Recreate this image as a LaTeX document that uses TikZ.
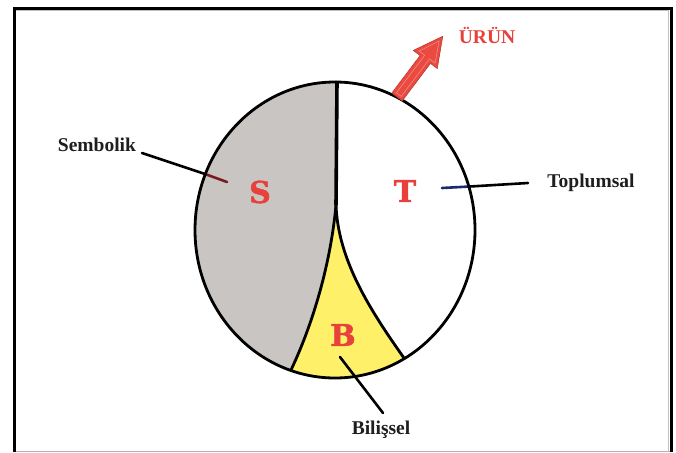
\documentclass[tikz,border=0pt]{standalone}
\usepackage{fontspec}
\setmainfont{Liberation Serif}
\newfontfamily\slabfont[BoldFeatures={FakeBold=1.6}]{DejaVu Serif}
\definecolor{lblred}{HTML}{E8403A}
\definecolor{arrred}{HTML}{EA4A40}
\definecolor{sgray}{HTML}{C9C5C3}
\definecolor{byellow}{HTML}{FFF06A}
\definecolor{txtdark}{HTML}{1E1E1E}
\definecolor{innerred}{HTML}{7A1A1A}
\definecolor{innerblue}{HTML}{1A2A6A}
\tikzset{
  lbl/.style={font=\fontsize{19.5}{21}\selectfont\bfseries, text=txtdark, inner sep=0pt},
  letter/.style={font=\slabfont\fontsize{30}{32}\selectfont\bfseries, text=lblred, inner sep=0pt},
  leader/.style={line width=2.6pt, line cap=round},
  outline/.style={line width=2.8pt, black},
}
\begin{document}
\begin{tikzpicture}[x=1pt,y=-1pt]
\useasboundingbox (0,0) rectangle (676,452);
\fill[white] (0,0) rectangle (676,452);
% frame
\draw[gray!60, line width=1pt] (16,451) -- (672,451);
\draw[gray!50, line width=1pt] (16,11) -- (668,11) -- (668,451);
\draw[black, line width=3.2pt] (14.5,452) -- (14.5,8.5) -- (671.5,8.5) -- (671.5,452);

% key points
\coordinate (top) at (337,81);
\coordinate (J) at (336,205);
\coordinate (BL) at (291,370);
\coordinate (BR) at (404,358);

% regions
\begin{scope}
  \clip (335,230) ellipse [x radius=140, y radius=148];
  \fill[white] (180,60) rectangle (500,400);
  \fill[sgray] (337,60) -- (top) -- (J) .. controls (330,270) and (310,330) .. (BL) -- (280,400) -- (180,400) -- (180,60) -- cycle;
  \fill[byellow] (J) .. controls (338,260) and (370,310) .. (BR) -- (430,400) -- (280,400) -- (BL) .. controls (310,330) and (330,270) .. (J) -- cycle;
\end{scope}
\draw[outline, line width=3.6pt] (top) -- (J);
\draw[outline] (J) .. controls (330,270) and (310,330) .. (BL);
\draw[outline] (J) .. controls (338,260) and (370,310) .. (BR);

% leader lines (inner parts)
\coordinate (sIn) at (227,182);
\coordinate (sCross) at (205,174);
\coordinate (sOut) at (142,153);
\coordinate (tIn) at (442,188);
\coordinate (tCross) at (470,186.5);
\coordinate (tOut) at (528,183);
\coordinate (bIn) at (340,357);
\coordinate (bOut) at (383,413);
\draw[leader, innerred] (sIn) -- (sCross);
\draw[leader, black] (sCross) -- (sOut);
\draw[leader, innerblue] (tIn) -- (tCross);
\draw[leader, black] (tCross) -- (tOut);
\draw[leader, black] (bIn) -- (bOut);

% circle outline
\draw[outline] (335,230) ellipse [x radius=140, y radius=148];

% arrow ÜRÜN
\coordinate (aBase) at (397,97);
\begin{scope}[shift={(aBase)}, rotate=53]
  \fill[arrred, draw=arrred!80!black, line width=0.6pt]
    (0,-6.5) -- (47,-6.5) -- (47,-15) -- (76,0) -- (47,15) -- (47,6.5) -- (0,6.5) -- cycle;
  \draw[white, opacity=0.35, line width=0.6pt]
    (3,-3) -- (50,-3) -- (50,-10) -- (70,0) -- (50,10) -- (50,3) -- (3,3) -- cycle;
\end{scope}

% labels
\node[lbl] (sem) at (97,145) {Sembolik};
\node[lbl] (top2) at (591,183) {Toplumsal};
\node[lbl] (bil) at (381,430) {Bilişsel};
\node[lbl, text=lblred] (urun) at (487,35) {ÜRÜN};

\node[letter] (S) at (260,192) {S};
\node[letter] (T) at (405,191) {T};
\node[letter] (B) at (343,335) {B};
\end{tikzpicture}
\end{document}
